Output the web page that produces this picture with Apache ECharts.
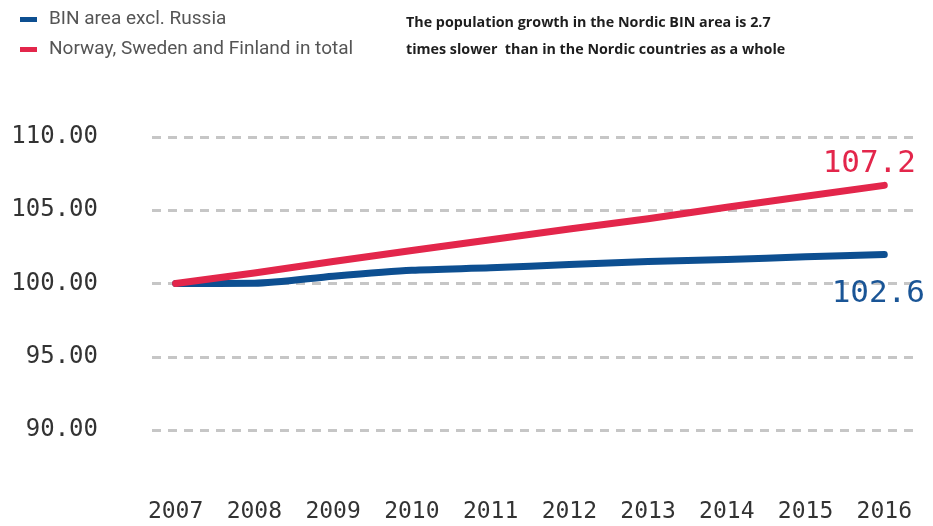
<!DOCTYPE html>
<html>
<head>
<meta charset="utf-8">
<script src="https://cdn.jsdelivr.net/npm/echarts@6/dist/echarts.min.js"></script>
<style>html,body{margin:0;padding:0;background:#fff}#c{width:933px;height:526px}</style>
</head>
<body>
<div id="c"></div>
<script>
const years = [2007, 2008, 2009, 2010, 2011, 2012, 2013, 2014, 2015, 2016];
const binArea = [100.0, 100.02, 100.5, 100.9, 101.07, 101.3, 101.5, 101.64, 101.82, 101.98];
const nordicTotal = [100.0, 100.72, 101.5, 102.25, 102.98, 103.72, 104.42, 105.2, 105.95, 106.7];
const seriesNames = ['BIN area excl. Russia', 'Norway, Sweden and Finland in total'];
const endLabels = ['102.6', '107.2'];
const yTicks = [90, 95, 100, 105, 110];
const noteLines = ['The population growth in the Nordic BIN area is 2.7', 'times slower  than in the Nordic countries as a whole'];

const blue = '#0d4f91';
const red = '#e3264b';
const mono = '"DejaVu Sans Mono", monospace';

const chart = echarts.init(document.getElementById('c'), null, {renderer: 'canvas'});
function pairs(vals){ return years.map((y,i)=>[y, vals[i]]); }
function endPoint(vals){ return [years[years.length-1], vals[vals.length-1]]; }

chart.setOption({
  animation: false,
  backgroundColor: '#fff',
  title: {
    text: noteLines.join('\n'),
    left: 401, top: 4,
    textStyle: {fontFamily: '"Liberation Sans Narrow", "Open Sans", sans-serif', fontWeight: 'bold', fontSize: 14.3, color: '#1e1e1e', lineHeight: 27}
  },
  legend: {
    orient: 'vertical', left: 15, top: 5, itemGap: 11,
    icon: 'rect', itemWidth: 17, itemHeight: 5,
    data: seriesNames,
    textStyle: {fontFamily: 'Roboto, sans-serif', fontSize: 19, color: '#555', padding: [0,0,0,7], lineHeight: 19}
  },
  grid: {left: 152, right: 18, top: 137, bottom: 96},
  xAxis: {
    type: 'value', min: 2006.7, max: 2016.39,
    axisLine: {show: false}, axisTick: {show: false}, splitLine: {show: false},
    axisLabel: {customValues: years, margin: 71, fontFamily: mono, fontSize: 23, color: '#333', formatter: v => String(Math.round(v))}
  },
  yAxis: {
    type: 'value', min: 90, max: 110, interval: 5,
    axisLine: {show: false}, axisTick: {show: false},
    axisLabel: {margin: 54, fontFamily: mono, fontSize: 24, color: '#333', formatter: v => v.toFixed(2)},
    splitLine: {show: true, lineStyle: {color: '#c6c6c6', width: 3, type: [9, 7]}}
  },
  series: [
    {
      name: seriesNames[0], type: 'line', data: pairs(binArea), symbol: 'none', smooth: 0.25,
      itemStyle: {color: blue},
      lineStyle: {color: blue, width: 7, cap: 'round', join: 'round'}, z: 3,
      markPoint: {symbol: 'circle', symbolSize: 0, data: [{coord: endPoint(binArea)}],
        label: {show: true, position: 'inside', offset: [-6, 39], formatter: () => endLabels[0], fontFamily: mono, fontSize: 31, color: '#1a5596'}}
    },
    {
      name: seriesNames[1], type: 'line', data: pairs(nordicTotal), symbol: 'none',
      itemStyle: {color: red},
      lineStyle: {color: red, width: 7, cap: 'round', join: 'round'}, z: 4,
      markPoint: {symbol: 'circle', symbolSize: 0, data: [{coord: endPoint(nordicTotal)}],
        label: {show: true, position: 'inside', offset: [-15, -21], formatter: () => endLabels[1], fontFamily: mono, fontSize: 31, color: red}}
    }
  ]
});
</script>
</body>
</html>
